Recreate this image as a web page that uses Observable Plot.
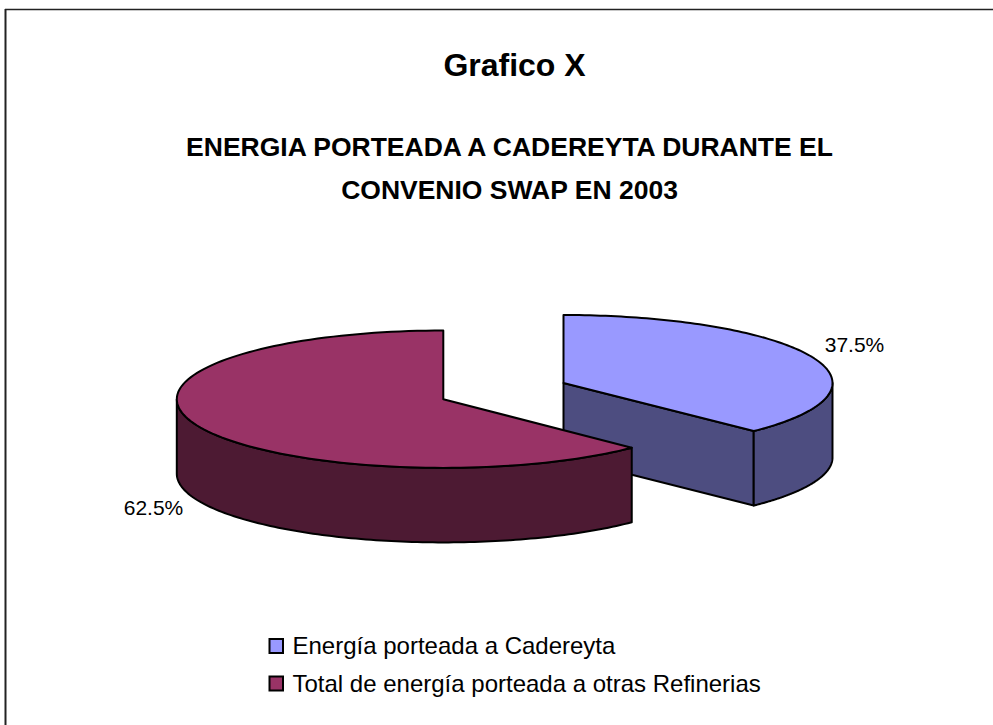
<!DOCTYPE html>
<html>
<head>
<meta charset="utf-8">
<script src="https://cdn.jsdelivr.net/npm/d3@7"></script>
<script src="https://cdn.jsdelivr.net/npm/@observablehq/plot@0.6"></script>
<style>
html,body{margin:0;padding:0;background:#fff}
svg{display:block}
</style>
</head>
<body>
<div id="chart"></div>
<script>
// Data
const categories = ["Energía porteada a Cadereyta", "Total de energía porteada a otras Refinerias"];
const shares = [37.5, 62.5];
const percentLabels = ["37.5%", "62.5%"];
const titleLines = ["Grafico X"];
const subtitleLines = ["ENERGIA PORTEADA A CADEREYTA DURANTE EL", "CONVENIO SWAP EN 2003"];

// Styles and layout
const topColors = ["#9999FF", "#993366"];
const sideColors = ["#4D4D80", "#4D1A33"];
const centers = [[563, 382.5], [442.8, 398.7]];
const radiusX = [269, 266.5], radiusY = [68, 68.7], depth = 74.5;
const labelPos = [[854, 345], [153, 508]];
const font = "Liberation Sans, Arial, sans-serif";

// Build slice geometry from the shares (clockwise from 12 o'clock)
let cum = 0;
const slices = shares.map((s, i) => {
  const a0 = cum / 100 * 2 * Math.PI; cum += s;
  return {i, a0, a1: cum / 100 * 2 * Math.PI};
});
const pt = (sl, a, dz = 0) => ({
  x: centers[sl.i][0] + radiusX[sl.i] * Math.sin(a),
  y: centers[sl.i][1] - radiusY[sl.i] * Math.cos(a) + dz
});
const arc = (sl, a0, a1, dz = 0) => d3.range(0, 121).map(k => pt(sl, a0 + (a1 - a0) * k / 120, dz));
const apex = (sl, dz = 0) => ({x: centers[sl.i][0], y: centers[sl.i][1] + dz});
const topFace = sl => [apex(sl), ...arc(sl, sl.a0, sl.a1), apex(sl)];
// outer wall: only the part on the front half (between 90° and 270°)
const wall = sl => {
  const a0 = Math.max(sl.a0, Math.PI / 2), a1 = Math.min(sl.a1, 3 * Math.PI / 2);
  const top = arc(sl, a0, a1), bot = arc(sl, a0, a1, depth).reverse();
  return [...top, ...bot, top[0]];
};
const [blue, red] = slices;
// the cut face that looks to the viewer
const blueCut = [apex(blue), pt(blue, blue.a1), pt(blue, blue.a1, depth), apex(blue, depth), apex(blue)];

const face = (pts, fill) => Plot.line(pts, {x: "x", y: "y", fill, stroke: "#000", strokeWidth: 2, strokeLinejoin: "round", curve: "linear"});

const legendRows = categories.map((c, i) => ({c, i, y: 646 + 37.5 * i}));

const plot = Plot.plot({
  width: 993, height: 725,
  margin: 0,
  x: {domain: [0, 993], range: [0, 993], axis: null},
  y: {domain: [0, 725], range: [0, 725], axis: null},
  style: {background: "#fff", fontFamily: font},
  marks: [
    Plot.ruleX([5], {y1: 9, y2: 725, stroke: "#222", strokeWidth: 2}),
    Plot.ruleY([9], {x1: 5, x2: 993, stroke: "#222", strokeWidth: 1.6}),
    Plot.text(titleLines, {x: 514, y: 65, text: d => d, fontSize: 32, fontWeight: "bold", fill: "#000"}),
    Plot.text(subtitleLines, {x: 509, y: (d, i) => 147 + 43 * i, text: d => d, fontSize: 26.5, fontWeight: "bold", fill: "#000"}),
    face(blueCut, sideColors[0]),
    face(wall(blue), sideColors[0]),
    face(topFace(blue), topColors[0]),
    face(wall(red), sideColors[1]),
    face(topFace(red), topColors[1]),
    Plot.text(percentLabels, {x: (d, i) => labelPos[i][0], y: (d, i) => labelPos[i][1], text: d => d, fontSize: 21, fill: "#000"}),
    Plot.rect(legendRows, {x1: 269.5, x2: 283, y1: d => d.y - 7, y2: d => d.y + 7, fill: d => topColors[d.i], stroke: "#000", strokeWidth: 2}),
    Plot.text(legendRows, {x: 292, y: "y", text: "c", textAnchor: "start", fontSize: 24, fill: "#000"})
  ]
});
document.getElementById("chart").appendChild(plot);
</script>
</body>
</html>
